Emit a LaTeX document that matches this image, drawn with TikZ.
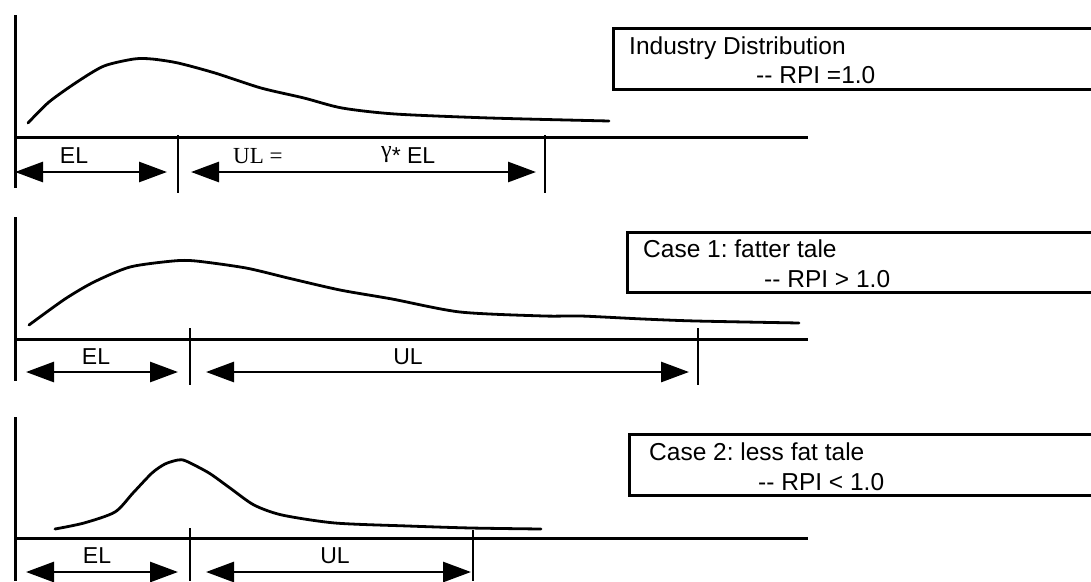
\documentclass[tikz,border=0pt]{standalone}
\usepackage{fontspec}
\setmainfont{Liberation Sans}[Ligatures=TeXOff]
\newfontfamily\serifface{Liberation Serif}[Ligatures=TeXOff]
\usetikzlibrary{arrows.meta}
\frenchspacing
\tikzset{
  axis/.style={line width=3pt},
  tick/.style={line width=2.4pt},
  curve/.style={line width=2.8pt, line join=round, line cap=round},
  dimarrow/.style={line width=2.8pt, {Triangle[length=28pt,width=20pt]}-{Triangle[length=28pt,width=20pt]}},
  lbl/.style={font=\fontsize{23}{27}\selectfont, inner sep=0pt, anchor=base},
  boxtxt/.style={font=\fontsize{24.5}{29}\selectfont, inner sep=0pt, anchor=base west},
  legendbox/.style={draw, line width=2.8pt, anchor=north west, minimum width=600pt, inner sep=0pt}
}
\begin{document}
\begin{tikzpicture}[x=1pt,y=-1pt]
\useasboundingbox (0,0) rectangle (1091,581);
\clip (0,0) rectangle (1091,581);

% ---------------- Panel 1 ----------------
\coordinate (v1t) at (15,15);   \coordinate (v1b) at (15,188);
\coordinate (h1l) at (15,137);  \coordinate (h1r) at (808,137);
\coordinate (t1at) at (178,135); \coordinate (t1ab) at (178,193);
\coordinate (t1bt) at (545,135); \coordinate (t1bb) at (545,193);
\coordinate (e1l) at (15,172);  \coordinate (e1r) at (167,172);
\coordinate (u1l) at (191,172); \coordinate (u1r) at (536,172);
\draw[axis] (v1t) -- (v1b);
\draw[axis] (h1l) -- (h1r);
\draw[tick] (t1at) -- (t1ab);
\draw[tick] (t1bt) -- (t1bb);
\draw[curve] plot[smooth, tension=0.45] coordinates {
  (28,123) (49,102) (77,82) (104,66) (134,59) (152,59) (178,63) (215,73)
  (261,88) (304,98) (342,108) (395,114) (490,118) (609,121)};
\draw[dimarrow] (e1l) -- (e1r);
\draw[dimarrow] (u1l) -- (u1r);
\node[lbl] (el1) at (74,163) {EL};
\node[lbl, anchor=base west, font=\serifface\fontsize{23}{27}\selectfont] (ul1a) at (233,163) {UL =};
\node[lbl, anchor=base west] (ul1b) at (381,163) {\raisebox{6pt}{\serifface\fontsize{24}{28}\selectfont γ}* EL};

\node[legendbox, minimum height=61pt] (box1) at (612,27) {};
\node[boxtxt] (box1a) at (629,54) {Industry Distribution};
\node[boxtxt] (box1b) at (756,83) {-{}- RPI =1.0};

% ---------------- Panel 2 ----------------
\coordinate (v2t) at (15,217);  \coordinate (v2b) at (15,381);
\coordinate (h2l) at (15,339);  \coordinate (h2r) at (808,339);
\coordinate (t2at) at (190,328); \coordinate (t2ab) at (190,385);
\coordinate (t2bt) at (698,328); \coordinate (t2bb) at (698,385);
\coordinate (e2l) at (26,372);  \coordinate (e2r) at (178,372);
\coordinate (u2l) at (206,372); \coordinate (u2r) at (689,372);
\draw[axis] (v2t) -- (v2b);
\draw[axis] (h2l) -- (h2r);
\draw[tick] (t2at) -- (t2ab);
\draw[tick] (t2bt) -- (t2bb);
\draw[curve] plot[smooth, tension=0.45] coordinates {
  (29,325) (65,299) (94,282) (130,267) (173,261) (196,261) (246,268) (288,278)
  (340,290) (392,299) (460,312) (544,316) (581,316) (643,319) (696,321) (799,323)};
\draw[dimarrow] (e2l) -- (e2r);
\draw[dimarrow] (u2l) -- (u2r);
\node[lbl] (el2) at (96,364) {EL};
\node[lbl] (ul2) at (408,364) {UL};

\node[legendbox, minimum height=60pt] (box2) at (626,231) {};
\node[boxtxt] (box2a) at (643,257) {Case 1: fatter tale};
\node[boxtxt] (box2b) at (764,287) {-{}- RPI > 1.0};

% ---------------- Panel 3 ----------------
\coordinate (v3t) at (15,417);  \coordinate (v3b) at (15,581);
\coordinate (h3l) at (15,538);  \coordinate (h3r) at (808,538);
\coordinate (t3at) at (190,528); \coordinate (t3ab) at (190,581);
\coordinate (t3bt) at (473,530); \coordinate (t3bb) at (473,581);
\coordinate (e3l) at (26,572);  \coordinate (e3r) at (178,572);
\coordinate (u3l) at (206,572); \coordinate (u3r) at (471,572);
\draw[axis] (v3t) -- (v3b);
\draw[axis] (h3l) -- (h3r);
\draw[tick] (t3at) -- (t3ab);
\draw[tick] (t3bt) -- (t3bb);
\draw[curve] plot[smooth, tension=0.45] coordinates {
  (55,529) (84,523) (115,512) (133,493) (152,473) (165,464) (178,460) (186,461)
  (209,473) (230,488) (254,505) (282,515) (335,523) (408,526) (471,528) (541,529)};
\draw[dimarrow] (e3l) -- (e3r);
\draw[dimarrow] (u3l) -- (u3r);
\node[lbl] (el3) at (97,563) {EL};
\node[lbl] (ul3) at (335,563) {UL};

\node[legendbox, minimum height=61pt] (box3) at (628,433) {};
\node[boxtxt] (box3a) at (649,460) {Case 2: less fat tale};
\node[boxtxt] (box3b) at (758,490) {-{}- RPI < 1.0};
\end{tikzpicture}
\end{document}
